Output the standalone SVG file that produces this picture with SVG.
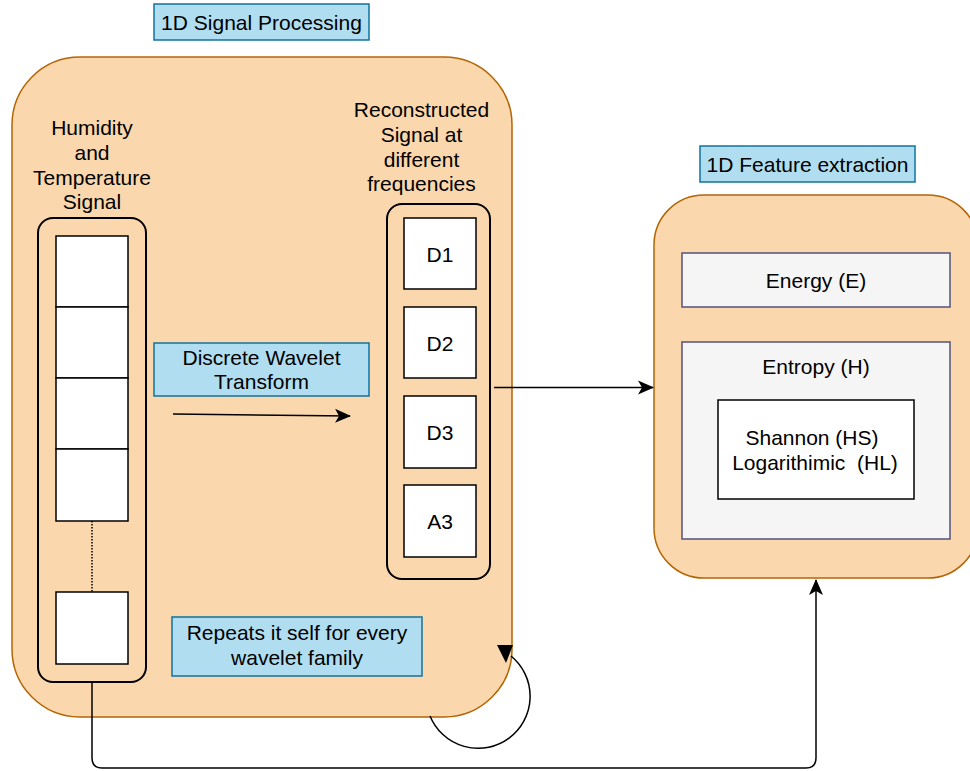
<svg xmlns="http://www.w3.org/2000/svg" width="970" height="771" viewBox="0 0 970 771">
  <style>
    text { font-family: "Liberation Sans", Arial, sans-serif; font-size: 21px; fill: #000; text-anchor: middle; }
    .pre { white-space: pre; }
    .container { fill: #fad7ac; stroke: #b46504; stroke-width: 1.5; }
    .label { fill: #b1ddf0; stroke: #10739e; stroke-width: 1.5; }
    .stack { fill: none; stroke: #000; stroke-width: 2; }
    .cell { fill: #fff; stroke: #000; stroke-width: 1.5; }
    .feature { fill: #f5f5f5; stroke: #56517e; stroke-width: 1.5; }
    .edge { fill: none; stroke: #000; stroke-width: 1.5; }
  </style>
  <defs>
    <marker id="arrowLg" viewBox="0 0 16 16" refX="15" refY="8" markerWidth="16" markerHeight="16" markerUnits="userSpaceOnUse" orient="auto">
      <path d="M0 1 L16 8 L0 15 L4 8 Z" fill="#000"/>
    </marker>
  </defs>

  <!-- Signal processing stage -->
  <g id="signal-processing">
    <rect class="container" x="12" y="57" width="500" height="660" rx="68" ry="68"/>
  </g>
  <g id="signal-processing-title">
    <rect class="label" x="154" y="4" width="215" height="36"/>
    <text x="261.5" y="30">1D Signal Processing</text>
  </g>

  <!-- Input signal column -->
  <g id="input-signal">
    <text x="92" y="135">Humidity</text>
    <text x="92" y="160">and</text>
    <text x="92" y="185">Temperature</text>
    <text x="92" y="209">Signal</text>
    <rect class="stack" x="38" y="218" width="108" height="464" rx="15" ry="15"/>
    <rect class="cell" x="56" y="236" width="72" height="71"/>
    <rect class="cell" x="56" y="307" width="72" height="71"/>
    <rect class="cell" x="56" y="378" width="72" height="71"/>
    <rect class="cell" x="56" y="449" width="72" height="72"/>
    <line x1="92" y1="521" x2="92" y2="592" stroke="#000" stroke-width="1.5" stroke-dasharray="1.5 1.5"/>
    <rect class="cell" x="56" y="592" width="72" height="72"/>
  </g>

  <!-- Transform label -->
  <g id="dwt-label">
    <rect class="label" x="154" y="343" width="215" height="53"/>
    <text x="261.5" y="365">Discrete Wavelet</text>
    <text x="261.5" y="389">Transform</text>
  </g>

  <!-- Reconstructed sub-bands -->
  <g id="reconstructed">
    <text x="421.5" y="117">Reconstructed</text>
    <text x="421.5" y="142">Signal at</text>
    <text x="421.5" y="167">different</text>
    <text x="421.5" y="191">frequencies</text>
    <rect class="stack" x="387" y="204" width="103" height="375" rx="15" ry="15"/>
    <rect class="cell" x="404" y="218" width="72" height="71"/>
    <text x="440" y="262">D1</text>
    <rect class="cell" x="404" y="307" width="72" height="71"/>
    <text x="440" y="351">D2</text>
    <rect class="cell" x="404" y="396" width="72" height="72"/>
    <text x="440" y="440">D3</text>
    <rect class="cell" x="404" y="485" width="72" height="72"/>
    <text x="440" y="529">A3</text>
  </g>

  <!-- Repeat note -->
  <g id="repeat-label">
    <rect class="label" x="172" y="617" width="250" height="59"/>
    <text x="297" y="640">Repeats it self for every</text>
    <text x="297" y="665">wavelet family</text>
  </g>

  <!-- Feature extraction stage -->
  <g id="feature-extraction">
    <rect class="container" x="654" y="195" width="324" height="383" rx="50" ry="50"/>
  </g>
  <g id="feature-extraction-title">
    <rect class="label" x="700" y="146" width="215" height="36"/>
    <text x="807.5" y="172">1D Feature extraction</text>
  </g>
  <g id="energy">
    <rect class="feature" x="682" y="253" width="268" height="54"/>
    <text x="816" y="288">Energy (E)</text>
  </g>
  <g id="entropy">
    <rect class="feature" x="682" y="342" width="268" height="197"/>
    <text x="816" y="374">Entropy (H)</text>
  </g>
  <g id="entropy-types">
    <rect class="cell" x="718" y="400" width="196" height="99"/>
    <text x="812" y="445">Shannon (HS)</text>
    <text class="pre" x="815" y="470">Logarithimic  (HL)</text>
  </g>

  <!-- Connectors -->
  <g id="connectors">
    <path class="edge" d="M173 414 L350 416" marker-end="url(#arrowLg)"/>
    <path class="edge" d="M494 387.5 L653 387.5" marker-end="url(#arrowLg)"/>
    <path class="edge" d="M92 682 V758 Q92 768 102 768 H806 Q816 768 816 758 V580" marker-end="url(#arrowLg)"/>
    <path class="edge" d="M430 716 A52 52 0 1 0 511 656"/>
    <polygon points="497,645 513,645 506,663" fill="#000"/>
  </g>
</svg>
